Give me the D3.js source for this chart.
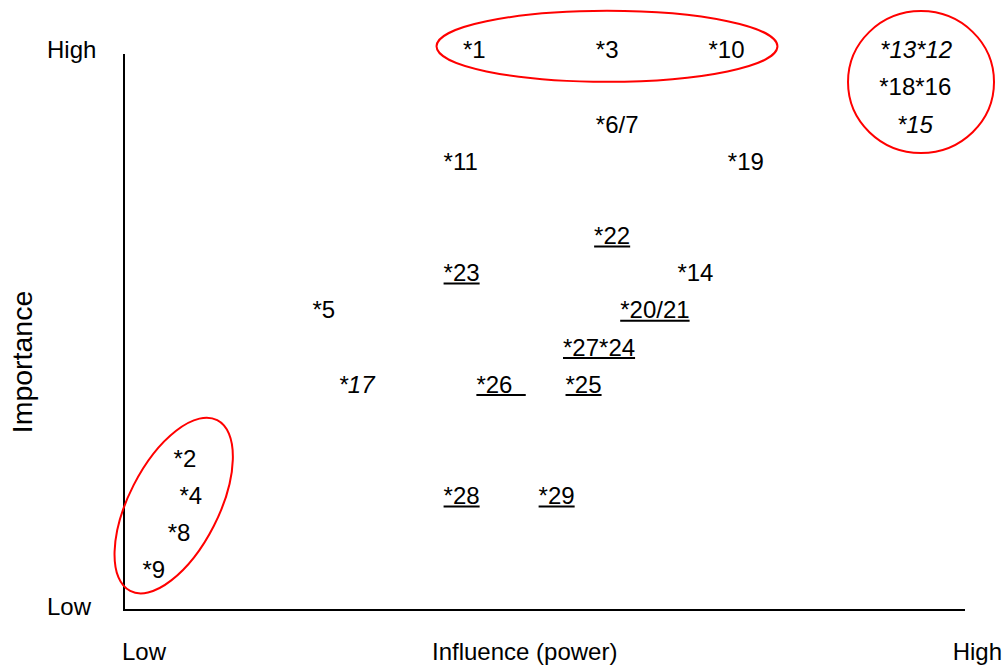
<!DOCTYPE html>
<html>
<head>
<meta charset="utf-8">
<script src="https://cdn.jsdelivr.net/npm/d3@7"></script>
<style>
  html, body { margin: 0; padding: 0; background: #fff; }
  svg { display: block; }
  text { font-family: "Liberation Sans", Arial, Helvetica, sans-serif; fill: #000; }
</style>
</head>
<body>
<svg id="chart" width="1004" height="666"></svg>
<script>
// ---- data ----
const labels = ["*1","*3","*10","*13*12","*18*16","*6/7","*15","*11","*19","*22","*23","*14","*5","*20/21","*27*24","*17","*26  ","*25","*2","*4","*8","*9","*28","*29"];
const influence = [40.3,56.1,69.5,89.9,89.8,56.1,91.9,38.0,71.8,55.9,38.0,65.8,22.4,59.0,52.2,25.5,41.9,52.5,5.9,6.6,5.2,2.2,38.0,49.3];
const importance = [15,15,15,15,14,13,13,12,12,10,9,9,8,8,7,6,6,6,4,3,2,1,3,3];
const underlined = ["*22","*23","*20/21","*27*24","*26  ","*25","*28","*29"];
const italicLabels = ["*13*12","*15","*17"];

const axisLowHigh = ["Low","High"];
const xTitle = "Influence (power)";
const yTitle = "Importance";

// highlighted groups (ellipses) in data units
const groupCx = [57.43, 94.77, 5.91];
const groupCy = [15.09, 14.13, 2.73];
const groupRx = [20.27, 8.68, 5.35];
const groupRy = [0.955, 1.91, 2.58];
const groupRot = [0, 0, 27];

// ---- layout ----
const svg = d3.select("#chart");
const x = d3.scaleLinear().domain([0, 100]).range([124, 965]);
const y = d3.scaleLinear().domain([0, 15]).range([607, 49.7]);
const FS = 24;

// axes
svg.append("line").attr("x1", x(0)).attr("x2", x(0)).attr("y1", 54).attr("y2", 610)
  .attr("stroke", "#000").attr("stroke-width", 2);
svg.append("line").attr("x1", x(0) - 1).attr("x2", x(100)).attr("y1", 610).attr("y2", 610)
  .attr("stroke", "#000").attr("stroke-width", 2.2);

// y-axis end labels
svg.append("text").attr("x", 47).attr("y", y(15) + 8.6).attr("font-size", FS).text(axisLowHigh[1]);
svg.append("text").attr("x", 47).attr("y", y(0) + 8.4).attr("font-size", FS).text(axisLowHigh[0]);
// x-axis labels
svg.append("text").attr("x", 122).attr("y", 660).attr("font-size", FS).text(axisLowHigh[0]);
svg.append("text").attr("x", 432).attr("y", 660).attr("font-size", FS).text(xTitle);
svg.append("text").attr("x", 1002).attr("y", 660).attr("font-size", FS).attr("text-anchor", "end").text(axisLowHigh[1]);
// y title
svg.append("text").attr("transform", "translate(31.5,362) rotate(-90)")
  .attr("text-anchor", "middle").attr("font-size", 28.5).text(yTitle);

// ellipses
const groups = groupCx.map((c, i) => ({
  cx: x(c), cy: y(groupCy[i]),
  rx: x(groupRx[i]) - x(0), ry: y(0) - y(groupRy[i]), rot: groupRot[i]
}));
svg.selectAll("ellipse.grp").data(groups).join("ellipse")
  .attr("class", "grp")
  .attr("cx", 0).attr("cy", 0)
  .attr("rx", d => d.rx).attr("ry", d => d.ry)
  .attr("transform", d => `translate(${d.cx},${d.cy}) rotate(${d.rot})`)
  .attr("fill", "none").attr("stroke", "#f00").attr("stroke-width", 2);

// stakeholder labels
const pts = labels.map((l, i) => ({
  label: l, x: x(influence[i]), y: y(importance[i]),
  u: underlined.includes(l), it: italicLabels.includes(l)
}));
const g = svg.append("g");
const texts = g.selectAll("text.pt").data(pts).join("text")
  .attr("class", "pt")
  .attr("x", d => d.x).attr("y", d => d.y + 8.6)
  .attr("font-size", FS)
  .attr("font-style", d => d.it ? "italic" : "normal")
  .style("white-space", "pre")
  .text(d => d.label);

texts.each(function(d) {
  if (!d.u) return;
  const w = this.getComputedTextLength();
  g.append("line")
    .attr("x1", d.x).attr("x2", d.x + w)
    .attr("y1", d.y + 11).attr("y2", d.y + 11)
    .attr("stroke", "#000").attr("stroke-width", 2);
});
</script>
</body>
</html>
